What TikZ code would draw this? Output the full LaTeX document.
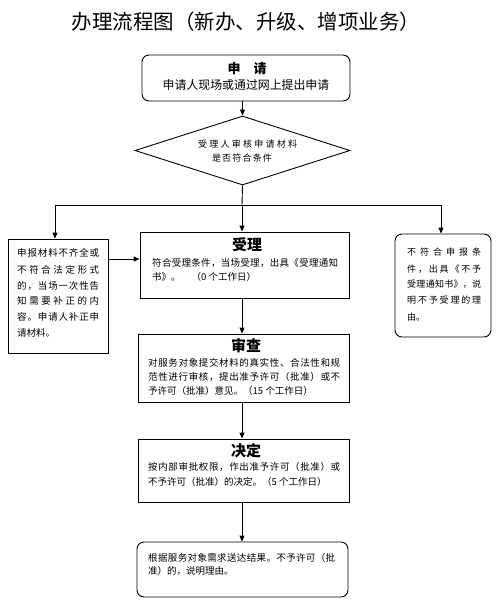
\documentclass[tikz,border=0pt]{standalone}
\usepackage{fontspec}
\setmainfont{Noto Sans CJK SC}
\usetikzlibrary{shapes.geometric,arrows.meta}
\newcommand{\sprd}[2]{{\spaceskip=0pt plus 1fil\xspaceskip=0pt plus 1fil\makebox[#1][s]{#2}}}
\newcommand{\fs}[1]{\fontsize{#1}{#1}\selectfont}
\tikzset{
  box/.style={draw, line width=0.9pt, inner sep=0pt},
  rbox/.style={box, rounded corners=7pt},
  arr/.style={draw, line width=0.9pt, -{Triangle[length=6pt,width=5pt]}},
  ln/.style={draw, line width=0.9pt},
  txt/.style={inner sep=0pt, anchor=west},
  ttl/.style={inner sep=0pt, font=\fs{15}\bfseries},
}
\begin{document}
\begin{tikzpicture}[x=1pt,y=-1pt]
\useasboundingbox[fill=white] (0,0) rectangle (502,603);

\node[inner sep=0pt] (title) at (246,22) {\fs{20.5}办理流程图（新办、升级、增项业务）};

% boxes
\node[rbox, minimum width=208pt, minimum height=46pt] (apply) at (246,78) {};
\node[box, shape=diamond, minimum width=215pt, minimum height=69pt] (dia) at (242.5,150.5) {};
\node[box, minimum width=100pt, minimum height=114pt] (left) at (58,296) {};
\node[box, minimum width=209pt, minimum height=66pt] (shouli) at (244.5,265) {};
\node[rbox, minimum width=96pt, minimum height=103pt] (right) at (443,285.5) {};
\node[box, minimum width=211pt, minimum height=68pt] (shencha) at (243.5,368) {};
\node[box, minimum width=211pt, minimum height=63pt] (jueding) at (243.5,470.5) {};
\node[rbox, minimum width=211pt, minimum height=55pt] (final) at (242.5,569.5) {};

% texts: apply
\node[inner sep=0pt, font=\fs{13}\bfseries] (t1a) at (247,68.5) {申　请};
\node[inner sep=0pt] (t1b) at (246,85) {\fs{11.9}申请人现场或通过网上提出申请};
% diamond
\node[inner sep=0pt] (t2a) at (247.5,144) {\fs{9}\sprd{99pt}{受 理 人 审 核 申 请 材 料}};
\node[inner sep=0pt] (t2b) at (242,158) {\fs{9}\sprd{60pt}{是 否 符 合 条 件}};
% left
\node[txt] (t3a) at (17,253) {\fs{9.5}\sprd{82pt}{申 报 材 料 不 齐 全 或}};
\node[txt] (t3b) at (17,270) {\fs{9.5}\sprd{82pt}{不 符 合 法 定 形 式}};
\node[txt] (t3c) at (17,286) {\fs{9.5}\sprd{82pt}{的 ， 当 场 一 次 性 告}};
\node[txt] (t3d) at (17,301) {\fs{9.5}\sprd{82pt}{知 需 要 补 正 的 内}};
\node[txt] (t3e) at (17,317) {\fs{9.5}\sprd{82pt}{容 。 申 请 人 补 正 申}};
\node[txt] (t3f) at (17,333) {\fs{9.5}请材料。};
% right
\node[txt] (t4a) at (407,252) {\fs{9}\sprd{74pt}{不 符 合 申 报 条}};
\node[txt] (t4b) at (407,269) {\fs{9}\sprd{74pt}{件 ， 出 具 《 不 予}};
\node[txt] (t4c) at (407,284) {\fs{9}\sprd{74pt}{受 理 通 知 书 》 ， 说}};
\node[txt] (t4d) at (407,300) {\fs{9}\sprd{74pt}{明 不 予 受 理 的 理}};
\node[txt] (t4e) at (407,317) {\fs{9}由。};
% shouli
\node[ttl] (t5) at (247,245) {受理};
\node[txt] (t5a) at (152,263) {\fs{9.5}\sprd{186pt}{符 合 受 理 条 件 ， 当 场 受 理 ， 出 具 《 受 理 通 知}};
\node[txt] (t5b) at (152,277) {\fs{9.5}书》。\hspace{11pt}（0 个工作日）};
% shencha
\node[ttl] (t6) at (246,346) {审查};
\node[txt] (t6a) at (148,363) {\fs{9.5}\sprd{192pt}{对 服 务 对 象 提 交 材 料 的 真 实 性 、 合 法 性 和 规}};
\node[txt] (t6b) at (148,377) {\fs{9.5}\sprd{192pt}{范 性 进 行 审 核 ， 提 出 准 予 许 可 （ 批 准 ） 或 不}};
\node[txt] (t6c) at (148,391) {\fs{9.5}予许可（批准）意见。（15 个工作日）};
% jueding
\node[ttl] (t7) at (246,451) {决定};
\node[txt] (t7a) at (148,467) {\fs{9.5}\sprd{192pt}{按 内 部 审 批 权 限 ， 作 出 准 予 许 可 （ 批 准 ） 或}};
\node[txt] (t7b) at (148,482) {\fs{9.5}不予许可（批准）的决定。（5 个工作日）};
% final
\node[txt] (t8a) at (148,558) {\fs{9.5}\sprd{187pt}{根 据 服 务 对 象 需 求 送 达 结 果 。 不 予 许 可 （ 批}};
\node[txt] (t8b) at (148,571) {\fs{9.5}准）的，说明理由。};

% connectors
\coordinate (j) at (242,205);
\coordinate (jl) at (55,205);
\coordinate (jr) at (441,205);
\coordinate (la) at (108,259);
\draw[arr] (apply.south -| dia.north) -- (dia.north);
\draw[ln] (dia.south) -- (j);
\draw[ln] (jl) -- (jr);
\draw[arr] (jl) -- (jl |- left.north);
\draw[arr] (jr) -- (jr |- right.north);
\draw[arr] (j) -- (j |- shouli.north);
\draw[arr] (la) -- (la -| shouli.west);
\draw[arr] (j |- shouli.south) -- (j |- shencha.north);
\draw[arr] (j |- shencha.south) -- (j |- jueding.north);
\draw[arr] (j |- jueding.south) -- (j |- final.north);
\end{tikzpicture}
\end{document}
